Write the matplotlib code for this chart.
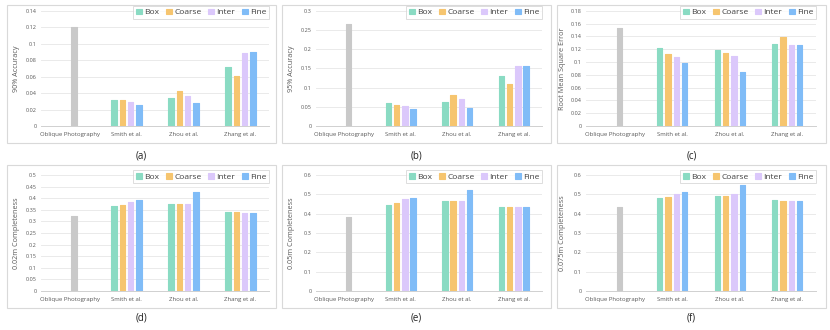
import matplotlib
matplotlib.use("Agg")
import matplotlib.pyplot as plt
from matplotlib.patches import Rectangle
from matplotlib.ticker import FuncFormatter, MultipleLocator
import numpy as np

plt.rcParams['font.family'] = ['Open Sans', 'DejaVu Sans']

categories = ["Oblique Photography", "Smith et al.", "Zhou et al.", "Zhang et al."]
series_names = ["Box", "Coarse", "Inter", "Fine"]
series_colors = ["#8ADBC3", "#F6C56F", "#DBC8FB", "#80BCF7"]
oblique_color = "#C9C9C9"

# values for Smith, Zhou, Zhang -> [Box, Coarse, Inter, Fine]
acc90_oblique = 0.120
acc90_methods = [[0.032, 0.031, 0.029, 0.026],
                 [0.034, 0.043, 0.037, 0.028],
                 [0.072, 0.061, 0.089, 0.090]]
acc95_oblique = 0.265
acc95_methods = [[0.060, 0.055, 0.052, 0.045],
                 [0.062, 0.081, 0.071, 0.046],
                 [0.130, 0.109, 0.155, 0.157]]
rmse_oblique = 0.153
rmse_methods = [[0.122, 0.113, 0.107, 0.099],
                [0.119, 0.114, 0.110, 0.085],
                [0.128, 0.139, 0.127, 0.126]]
comp002_oblique = 0.325
comp002_methods = [[0.368, 0.370, 0.385, 0.392],
                   [0.377, 0.375, 0.375, 0.427],
                   [0.340, 0.341, 0.336, 0.336]]
comp005_oblique = 0.385
comp005_methods = [[0.447, 0.457, 0.475, 0.480],
                   [0.468, 0.463, 0.467, 0.522],
                   [0.437, 0.432, 0.435, 0.432]]
comp0075_oblique = 0.437
comp0075_methods = [[0.482, 0.486, 0.500, 0.510],
                    [0.493, 0.493, 0.502, 0.550],
                    [0.470, 0.463, 0.468, 0.466]]

ylabels = ["90% Accuracy", "95% Accuracy", "Root Mean Square Error",
           "0.02m Completeness", "0.05m Completeness", "0.075m Completeness"]
ytops = [0.14, 0.3, 0.18, 0.5, 0.6, 0.6]
ysteps = [0.02, 0.05, 0.02, 0.05, 0.1, 0.1]
panel_labels = ["(a)", "(b)", "(c)", "(d)", "(e)", "(f)"]
obliques = [acc90_oblique, acc95_oblique, rmse_oblique,
            comp002_oblique, comp005_oblique, comp0075_oblique]
methods = [acc90_methods, acc95_methods, rmse_methods,
           comp002_methods, comp005_methods, comp0075_methods]

W, H = 830, 330
fig = plt.figure(figsize=(W / 100, H / 100), dpi=100)

def fx(x):
    return x / W

def fy(y):
    return 1 - y / H

box_x = [(7, 276), (282, 551), (557, 826)]
box_y = [(5, 143), (165, 308)]
ax_x = [(41, 269), (316, 542), (586, 816)]
ax_y = [(10.7, 126), (175, 291)]
ylab_x = [16, 291, 563]
lab_y = [156, 318]

bar_w = 0.095
pitch = 0.145

for i in range(6):
    r, c = divmod(i, 3)
    bx0, bx1 = box_x[c]
    by0, by1 = box_y[r]
    fig.patches.append(Rectangle((fx(bx0), fy(by1)), fx(bx1 - bx0), (by1 - by0) / H,
                                 transform=fig.transFigure, fill=False,
                                 edgecolor="#D9D9D9", linewidth=0.8))
    ax0, ax1 = ax_x[c]
    ay0, ay1 = ax_y[r]
    ax = fig.add_axes([fx(ax0), fy(ay1), fx(ax1 - ax0), (ay1 - ay0) / H])
    ax.set_xlim(-0.5, 3.5)
    ax.set_ylim(0, ytops[i])
    ax.yaxis.set_major_locator(MultipleLocator(ysteps[i]))
    ax.yaxis.set_major_formatter(FuncFormatter(lambda v, p: "{:g}".format(round(v, 4))))
    ax.grid(axis='y', color="#E6E6E6", linewidth=0.6)
    ax.set_axisbelow(True)
    for s in ["top", "right", "left"]:
        ax.spines[s].set_visible(False)
    ax.spines["bottom"].set_color("#D0D0D0")
    ax.spines["bottom"].set_linewidth(0.7)
    ax.tick_params(axis='both', length=0, labelsize=4, colors="#595959", pad=3)
    ax.tick_params(axis='x', labelsize=4.3, pad=4)
    ax.set_xticks(range(4))
    ax.set_xticklabels(categories)

    ax.bar(0.08, obliques[i], bar_w, color=oblique_color, edgecolor=oblique_color,
           linewidth=0.8, joinstyle='round')
    vals = np.array(methods[i])
    for k in range(4):
        xs = np.arange(1, 4) + (k - 1.5) * pitch
        ax.bar(xs, vals[:, k], bar_w, color=series_colors[k], edgecolor=series_colors[k],
               linewidth=0.8, joinstyle='round', label=series_names[k])
    leg = ax.legend(loc='upper right', bbox_to_anchor=(1.0, 1.04), ncol=4,
                    fontsize=6, frameon=True, fancybox=False, borderaxespad=0,
                    handlelength=0.7, handleheight=0.7, handletextpad=0.3,
                    columnspacing=0.8, borderpad=0.3, labelcolor="#404040")
    leg.get_frame().set_edgecolor("#CFCFCF")
    leg.get_frame().set_linewidth(0.6)

    fig.text(fx(ylab_x[c]), fy((ay0 + ay1) / 2), ylabels[i], rotation=90,
             ha='center', va='center', fontsize=5.2, color="#595959")
    fig.text(fx((bx0 + bx1) / 2), fy(lab_y[r]), panel_labels[i],
             ha='center', va='center', fontsize=7, color="#222222")

fig.savefig("out.png", dpi=100, facecolor="white")
